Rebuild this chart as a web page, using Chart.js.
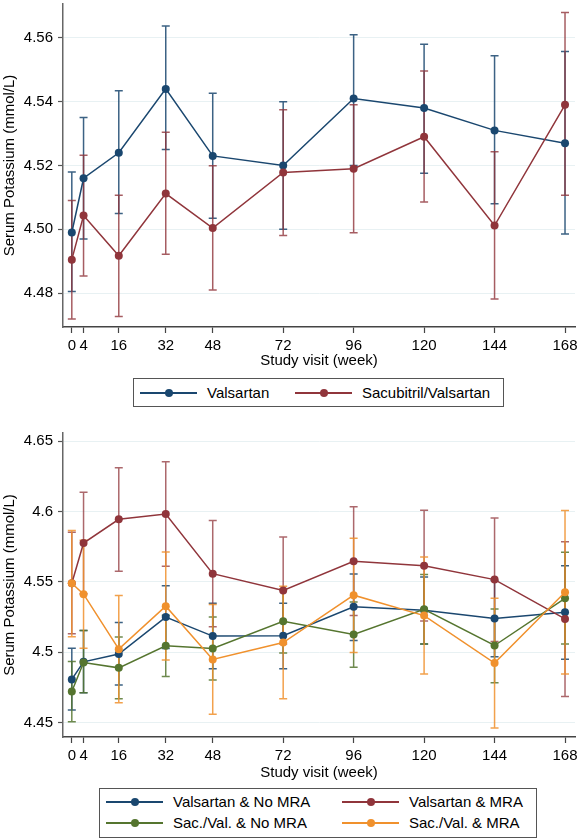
<!DOCTYPE html>
<html>
<head>
<meta charset="utf-8">
<script src="https://cdn.jsdelivr.net/npm/chart.js@4"></script>
<style>
  body { margin: 0; background: #fff; font-family: "Liberation Sans", Arial, sans-serif; }
  #wrap { position: relative; width: 579px; height: 839px; }
  canvas { position: absolute; left: 0; }
  .legend { position: absolute; border: 1.5px solid #555; box-sizing: border-box; background: #fff; }
  .item { position: absolute; height: 16px; font-size: 15px; line-height: 16px; color: #000; white-space: nowrap; }
  .sym { position: absolute; top: 7px; width: 57px; height: 1.5px; }
  .dot { position: absolute; top: -3.5px; left: 24.5px; width: 8px; height: 8px; border-radius: 50%; }
  .lab { position: absolute; left: 67px; top: 0; }
</style>
</head>
<body>
<div id="wrap">
  <canvas id="chartTop" width="579" height="372" style="top:0"></canvas>
  <canvas id="chartBottom" width="579" height="372" style="top:420px"></canvas>
</div>
<script>
// study visits (weeks)
var weeks = [0, 4, 16, 32, 48, 72, 96, 120, 144, 168];

// top panel: Valsartan vs Sacubitril/Valsartan
var valMean = [4.499, 4.516, 4.524, 4.544, 4.523, 4.520, 4.541, 4.538, 4.531, 4.527];
var valLow  = [4.4805, 4.497, 4.505, 4.525, 4.5035, 4.500, 4.520, 4.5176, 4.508, 4.4985];
var valHigh = [4.518, 4.535, 4.5434, 4.5637, 4.5426, 4.540, 4.561, 4.558, 4.5544, 4.5557];
var sacMean = [4.4905, 4.5043, 4.4917, 4.5112, 4.5004, 4.5178, 4.519, 4.529, 4.5012, 4.539];
var sacLow  = [4.4719, 4.4854, 4.4727, 4.4922, 4.481, 4.4981, 4.4989, 4.5086, 4.4782, 4.5107];
var sacHigh = [4.509, 4.5232, 4.5107, 4.5304, 4.5199, 4.5375, 4.539, 4.5496, 4.5243, 4.5679];

// bottom panel: split by MRA use
var vnMean = [4.4806, 4.4931, 4.4986, 4.5249, 4.5114, 4.5116, 4.5322, 4.5298, 4.5239, 4.5284];
var vnLow  = [4.4588, 4.471, 4.4766, 4.5025, 4.4881, 4.4881, 4.5083, 4.5057, 4.4967, 4.495];
var vnHigh = [4.5028, 4.5153, 4.521, 4.5473, 4.5347, 4.5348, 4.5556, 4.5535, 4.551, 4.5615];
var vmMean = [4.549, 4.5776, 4.5945, 4.5982, 4.5558, 4.5438, 4.5646, 4.5615, 4.5516, 4.5236];
var vmLow  = [4.513, 4.5416, 4.5575, 4.5611, 4.518, 4.5057, 4.526, 4.5222, 4.5075, 4.4685];
var vmHigh = [4.5852, 4.6138, 4.6311, 4.6354, 4.5937, 4.5819, 4.6034, 4.601, 4.5954, 4.5786];
var snMean = [4.472, 4.4926, 4.4888, 4.5045, 4.5026, 4.522, 4.5125, 4.5305, 4.5047, 4.5383];
var snLow  = [4.4505, 4.4711, 4.4668, 4.4827, 4.4801, 4.4993, 4.4893, 4.5057, 4.4782, 4.5057];
var snHigh = [4.4933, 4.5153, 4.5107, 4.5263, 4.5249, 4.5447, 4.5357, 4.5553, 4.5307, 4.571];
var smMean = [4.549, 4.5412, 4.5021, 4.5327, 4.4948, 4.5068, 4.5405, 4.526, 4.4922, 4.5426];
var smLow  = [4.511, 4.5028, 4.464, 4.4943, 4.4557, 4.4668, 4.4997, 4.4844, 4.446, 4.4844];
var smHigh = [4.5866, 4.5796, 4.5402, 4.5712, 4.5338, 4.5468, 4.581, 4.5677, 4.5383, 4.6008];

// tick values and labels
var yTicksTop = [4.48, 4.50, 4.52, 4.54, 4.56];
var yLabelsTop = ["4.48", "4.50", "4.52", "4.54", "4.56"];
var yTicksBottom = [4.45, 4.5, 4.55, 4.6, 4.65];
var yLabelsBottom = ["4.45", "4.5", "4.55", "4.6", "4.65"];

var namesTop = ["Valsartan", "Sacubitril/Valsartan"];
var namesBottom = ["Valsartan & No MRA", "Valsartan & MRA", "Sac./Val. & No MRA", "Sac./Val. & MRA"];

var BLUE = "rgb(26,71,111)";
var RED = "rgb(144,53,59)";
var GREEN = "rgb(85,117,47)";
var ORANGE = "rgb(240,145,45)";
var FONT = "'Liberation Sans', Arial, sans-serif";
var GRID = "rgb(232,241,243)";

function makeSet(name, mean, low, high, color, errColor, order) {
  return {
    label: name,
    data: weeks.map(function (w, i) { return { x: w, y: mean[i] }; }),
    errLow: low,
    errHigh: high,
    errColor: errColor,
    borderColor: color,
    backgroundColor: color,
    borderWidth: 1.5,
    pointRadius: 4,
    pointBorderWidth: 0,
    pointBackgroundColor: color,
    tension: 0,
    order: order,
  };
}

// vertical capped error bars
var errorBars = {
  id: "errorBars",
  beforeDatasetsDraw: function (chart) {
    var ctx = chart.ctx;
    var xs = chart.scales.x, ys = chart.scales.y;
    chart.data.datasets.forEach(function (ds) {
      ctx.save();
      ctx.strokeStyle = ds.errColor;
      ctx.lineWidth = 1.5;
      for (var i = 0; i < ds.data.length; i++) {
        var px = xs.getPixelForValue(ds.data[i].x);
        var lo = ys.getPixelForValue(ds.errLow[i]);
        var hi = ys.getPixelForValue(ds.errHigh[i]);
        ctx.beginPath();
        ctx.moveTo(px, lo); ctx.lineTo(px, hi);
        ctx.moveTo(px - 4, lo); ctx.lineTo(px + 4, lo);
        ctx.moveTo(px - 4, hi); ctx.lineTo(px + 4, hi);
        ctx.stroke();
      }
      ctx.restore();
    });
  },
};

function makeOptions(yMin, yMax, yTicks, yLabels, padTop, xHeight, titlePad) {
  return {
    responsive: false,
    animation: false,
    events: [],
    layout: { padding: { top: padTop, right: 4, left: 0, bottom: 0 } },
    plugins: { legend: { display: false }, tooltip: { enabled: false } },
    scales: {
      x: {
        type: "linear",
        min: -3,
        max: 171.4,
        afterBuildTicks: function (s) { s.ticks = weeks.map(function (w) { return { value: w }; }); },
        afterFit: function (s) { s.height = xHeight; s.paddingLeft = 0; s.paddingRight = 0; },
        grid: { drawOnChartArea: false, drawTicks: true, tickLength: 6, tickColor: "#444", tickWidth: 1.2 },
        border: { display: true, color: "#444", width: 1.5 },
        ticks: { color: "#000", font: { family: FONT, size: 15 }, padding: 4, maxRotation: 0, autoSkip: false },
        title: { display: true, text: "Study visit (week)", color: "#000", font: { family: FONT, size: 15 }, padding: { top: 0, bottom: titlePad } },
      },
      y: {
        min: yMin,
        max: yMax,
        afterBuildTicks: function (s) { s.ticks = yTicks.map(function (v) { return { value: v }; }); },
        afterFit: function (s) { s.width = 63; s.paddingTop = 0; s.paddingBottom = 0; },
        grid: { color: GRID, lineWidth: 1, drawTicks: true, tickLength: 5, tickColor: "#555", tickWidth: 1.2 },
        border: { display: true, color: "#666", width: 1.5 },
        ticks: {
          color: "#000",
          font: { family: FONT, size: 15 },
          padding: 5,
          callback: function (v, i) { return yLabels[i]; },
        },
        title: { display: true, text: "Serum Potassium (mmol/L)", color: "#000", font: { family: FONT, size: 15 }, padding: { top: 1, bottom: 0 } },
      },
    },
  };
}

new Chart(document.getElementById("chartTop"), {
  type: "line",
  data: {
    datasets: [
      makeSet(namesTop[0], valMean, valLow, valHigh, BLUE, "rgba(26,71,111,0.85)", 2),
      makeSet(namesTop[1], sacMean, sacLow, sacHigh, RED, "rgba(144,53,59,0.8)", 1),
    ],
  },
  options: makeOptions(4.4694, 4.5706, yTicksTop, yLabelsTop, 2, 45, 2),
  plugins: [errorBars],
});

new Chart(document.getElementById("chartBottom"), {
  type: "line",
  data: {
    datasets: [
      makeSet(namesBottom[0], vnMean, vnLow, vnHigh, BLUE, "rgba(26,71,111,0.85)", 4),
      makeSet(namesBottom[1], vmMean, vmLow, vmHigh, RED, "rgba(144,53,59,0.75)", 3),
      makeSet(namesBottom[2], snMean, snLow, snHigh, GREEN, "rgba(85,117,47,0.85)", 2),
      makeSet(namesBottom[3], smMean, smLow, smHigh, ORANGE, "rgba(240,145,45,0.85)", 1),
    ],
  },
  options: makeOptions(4.4396, 4.6559, yTicksBottom, yLabelsBottom, 13, 55, 10),
  plugins: [errorBars],
});

// legends drawn as html boxes
function addLegend(box, items) {
  var wrap = document.getElementById("wrap");
  var lg = document.createElement("div");
  lg.className = "legend";
  lg.style.left = box[0] + "px"; lg.style.top = box[1] + "px";
  lg.style.width = box[2] + "px"; lg.style.height = box[3] + "px";
  wrap.appendChild(lg);
  items.forEach(function (it) {
    var d = document.createElement("div");
    d.className = "item";
    d.style.left = it.x + "px"; d.style.top = it.y + "px";
    d.innerHTML = '<div class="sym" style="background:' + it.color + '"><div class="dot" style="background:' + it.color + '"></div></div><span class="lab"></span>';
    d.querySelector(".lab").textContent = it.name;
    lg.appendChild(d);
  });
}

addLegend([133, 378, 371, 29], [
  { name: namesTop[0], color: BLUE, x: 6, y: 6 },
  { name: namesTop[1], color: RED, x: 161, y: 6 },
]);

addLegend([99, 788, 438, 50], [
  { name: namesBottom[0], color: BLUE, x: 6, y: 5 },
  { name: namesBottom[1], color: RED, x: 242, y: 5 },
  { name: namesBottom[2], color: GREEN, x: 6, y: 26 },
  { name: namesBottom[3], color: ORANGE, x: 242, y: 26 },
]);
</script>
</body>
</html>
